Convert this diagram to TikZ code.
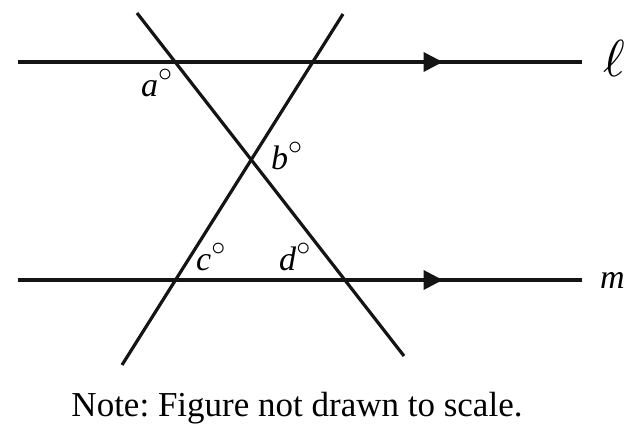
\documentclass[tikz,border=0pt]{standalone}
\usepackage{graphicx}
\usepackage{fontspec}
\setmainfont{Liberation Serif}
\usetikzlibrary{decorations.markings,arrows.meta}
\frenchspacing
\newcommand{\dg}{\raisebox{15pt}{\fontsize{10}{12}\selectfont\scalebox{2.8}{$\circ$}}}
\begin{document}
\begin{tikzpicture}[x=1pt,y=-1pt,
  geoline/.style={line width=3.2pt,black!92},
  parline/.style={geoline,postaction={decorate},decoration={markings,mark=at position #1 with {\arrow{Triangle[length=19pt,width=19pt]}}}},
  lbl/.style={font=\fontsize{34}{36}\selectfont,anchor=base west,inner sep=0pt}]
\useasboundingbox (0,0) rectangle (643,443);
% points
\coordinate (L1) at (18,62);
\coordinate (L2) at (582,62);
\coordinate (M1) at (18,280);
\coordinate (M2) at (582,280);
\coordinate (T1a) at (137,13);
\coordinate (T1b) at (404,356);
\coordinate (T2a) at (343,14);
\coordinate (T2b) at (122,365);
% parallel lines
\draw[parline=0.753] (L1) -- (L2);
\draw[parline=0.753] (M1) -- (M2);
% transversals
\draw[geoline] (T1a) -- (T1b);
\draw[geoline] (T2a) -- (T2b);
% labels
\node[lbl] (la) at (603,77) {\fontsize{10}{12}\selectfont\scalebox{5.2}{$\ell$}};
\node[lbl] (lm) at (600,289) {\textit{m}};
\node[lbl] (a) at (141,97) {\textit{a}\dg};
\node[lbl] (b) at (271,170) {\textit{b}\dg};
\node[lbl] (c) at (196,271) {\textit{c}\dg};
\node[lbl] (d) at (279,271) {\textit{d}\dg};
\node[font=\fontsize{35}{38}\selectfont,anchor=base,inner sep=0pt] (note) at (297,417) {Note: Figure not drawn to scale.};
\end{tikzpicture}
\end{document}
